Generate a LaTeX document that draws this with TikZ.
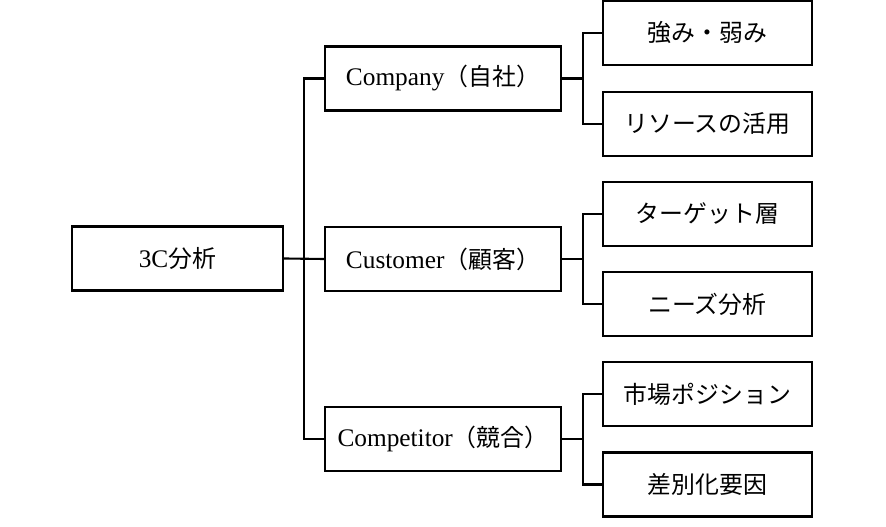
\documentclass[tikz,border=0pt]{standalone}
\usepackage{fontspec}
\setmainfont{Liberation Serif}[Scale=1.06]
\newfontfamily\jp{Noto Sans CJK JP}
\usetikzlibrary{calc}

\tikzset{
  box/.style = {draw, line width=1.6pt, minimum height=1.6cm, inner sep=2pt,
                font=\fontsize{17}{20}\selectfont},
  rootbox/.style = {box, minimum width=5.275cm},
  midbox/.style = {box, minimum width=5.9cm},
  leafbox/.style = {box, minimum width=5.225cm},
  link/.style = {line width=1.5pt}
}

\begin{document}
\begin{tikzpicture}
  % Fix the page size
  \useasboundingbox (0,0) rectangle (22.15,13.175);

  % Root
  \node[rootbox] (root) at (4.4375,6.7125) {3C{\jp 分析}};

  % The three C's
  \node[midbox] (company) at (11.075,11.2125) {Company{\jp （自社）}};
  \node[midbox] (customer) at (11.075,6.7) {Customer{\jp （顧客）}};
  \node[midbox] (competitor) at (11.075,2.2) {Competitor{\jp （競合）}};

  % Leaves
  \node[leafbox] (strength) at (17.6875,12.35) {\jp 強み・弱み};
  \node[leafbox] (resource) at (17.6875,10.075) {\jp リソースの活用};
  \node[leafbox] (target) at (17.6875,7.825) {\jp ターゲット層};
  \node[leafbox] (needs) at (17.6875,5.575) {\jp ニーズ分析};
  \node[leafbox] (position) at (17.6875,3.325) {\jp 市場ポジション};
  \node[leafbox] (diff) at (17.6875,1.0625) {\jp 差別化要因};

  % Junction points
  \coordinate (J) at ($(root.east)!0.5!(customer.west)$);
  \coordinate (K1) at ($(company.east)+(0.525,0)$);
  \coordinate (K2) at ($(customer.east)+(0.525,0)$);
  \coordinate (K3) at ($(competitor.east)+(0.525,0)$);

  % Draw the connectors
  \draw[link] (root.east) -- (J);
  \draw[link] (company.west) -| (J) |- (competitor.west);
  \draw[link] (J) -- (customer.west);

  \draw[link] (company.east) -- (K1);
  \draw[link] (strength.west) -| (K1) |- (resource.west);
  \draw[link] (customer.east) -- (K2);
  \draw[link] (target.west) -| (K2) |- (needs.west);
  \draw[link] (competitor.east) -- (K3);
  \draw[link] (position.west) -| (K3) |- (diff.west);

\end{tikzpicture}
\end{document}
